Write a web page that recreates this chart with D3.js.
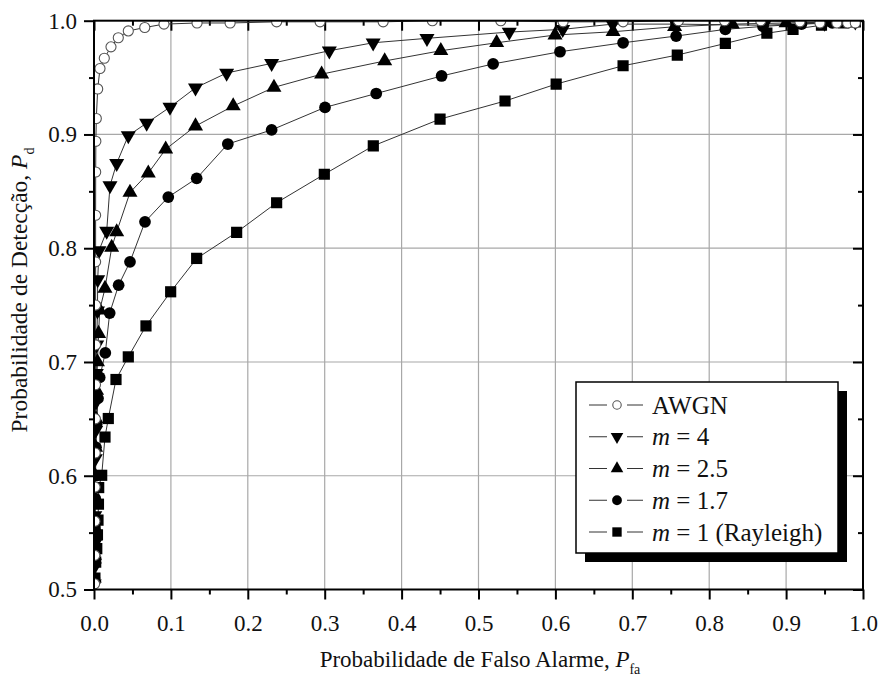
<!DOCTYPE html>
<html>
<head>
<meta charset="utf-8">
<script src="https://cdn.jsdelivr.net/npm/d3@7"></script>
<style>
  html, body { margin: 0; padding: 0; background: #fff; }
  svg { display: block; font-family: "Liberation Serif", "Times New Roman", serif; }
</style>
</head>
<body>
<svg id="chart" width="880" height="679"></svg>
<script>
// Detection probability vs. false-alarm probability (ROC) for Nakagami-m fading.
const xTickValues = [0, 0.1, 0.2, 0.3, 0.4, 0.5, 0.6, 0.7, 0.8, 0.9, 1.0];
const yTickValues = [0.5, 0.6, 0.7, 0.8, 0.9, 1.0];
const seriesNames = ["AWGN", "m = 4", "m = 2.5", "m = 1.7", "m = 1 (Rayleigh)"];

// [Pfa, Pd] pairs for each curve
const awgn = [
  [0.0008,0.505],[0.0010,0.530],[0.0012,0.560],[0.0014,0.590],[0.0016,0.620],[0.0018,0.650],
  [0.0019,0.680],[0.0020,0.715],[0.0021,0.750],[0.0021,0.788],[0.0021,0.829],[0.0022,0.867],
  [0.0024,0.894],[0.0030,0.914],[0.0048,0.940],[0.0078,0.958],[0.0134,0.967],[0.0221,0.977],
  [0.0316,0.985],[0.0446,0.991],[0.066,0.994],[0.091,0.997],[0.134,0.998],[0.177,0.998],
  [0.2375,0.999],[0.294,0.999],[0.376,0.999],[0.440,1.0],[0.529,1.0],[0.610,0.999],
  [0.688,0.999],[0.760,1.0],[0.820,1.0],[0.867,1.0],[0.918,0.999],[0.944,0.998],
  [0.966,0.998],[0.980,0.998],[0.990,0.998]
];
const m4 = [
  [0.0003,0.505],[0.0005,0.520],[0.0007,0.540],[0.0010,0.565],[0.0013,0.590],[0.0017,0.615],
  [0.0021,0.640],[0.0026,0.665],[0.0030,0.690],[0.0035,0.715],[0.0045,0.745],[0.0048,0.7725],
  [0.0065,0.798],[0.0165,0.815],[0.0208,0.855],[0.0295,0.8746],[0.0446,0.899],[0.0685,0.910],
  [0.0988,0.924],[0.132,0.941],[0.1725,0.954],[0.231,0.9625],[0.306,0.9736],[0.363,0.9806],
  [0.433,0.9845],[0.540,0.990],[0.6095,0.9924],[0.6745,0.997],[0.757,0.997],[0.871,0.996],
  [0.950,0.998],[0.990,0.999]
];
const m25 = [
  [0.0004,0.510],[0.0006,0.530],[0.0009,0.555],[0.0012,0.575],[0.0016,0.600],[0.0020,0.625],
  [0.0026,0.650],[0.0033,0.675],[0.0045,0.700],[0.0060,0.725],[0.0074,0.7456],[0.0143,0.7646],
  [0.023,0.8007],[0.0295,0.8144],[0.0468,0.849],[0.0706,0.866],[0.0932,0.887],[0.132,0.9074],
  [0.181,0.925],[0.234,0.9414],[0.296,0.953],[0.378,0.9646],[0.451,0.9736],[0.5236,0.9806],
  [0.5995,0.9874],[0.675,0.9903],[0.755,0.9947],[0.830,0.997],[0.900,0.998],[0.960,0.999]
];
const m17 = [
  [0.0005,0.510],[0.0008,0.530],[0.0012,0.555],[0.0016,0.580],[0.0020,0.600],[0.0026,0.625],
  [0.0035,0.645],[0.0052,0.668],[0.0074,0.6864],[0.0147,0.708],[0.0204,0.743],[0.032,0.7675],
  [0.0468,0.788],[0.0663,0.8232],[0.0966,0.845],[0.1335,0.8614],[0.174,0.8916],[0.231,0.904],
  [0.3004,0.9238],[0.367,0.936],[0.452,0.9514],[0.519,0.962],[0.606,0.9727],[0.688,0.9806],
  [0.757,0.9865],[0.821,0.9924],[0.870,0.995],[0.920,0.997],[0.960,0.998]
];
const m1 = [
  [0.0012,0.510],[0.0022,0.524],[0.0036,0.536],[0.0045,0.548],[0.0052,0.561],[0.0058,0.575],
  [0.0061,0.5896],[0.0100,0.6004],[0.0143,0.634],[0.0186,0.6503],[0.0286,0.6846],[0.0446,0.7045],
  [0.0676,0.7317],[0.0997,0.7617],[0.1335,0.791],[0.1855,0.814],[0.2375,0.840],[0.2995,0.865],
  [0.3632,0.890],[0.450,0.9135],[0.5345,0.9294],[0.601,0.9443],[0.688,0.9604],[0.7585,0.9698],
  [0.821,0.980],[0.875,0.989],[0.909,0.9924],[0.946,0.996],[0.975,0.998],[0.990,0.999]
];

const series = [
  { name: seriesNames[0], data: awgn, shape: "circle-open" },
  { name: seriesNames[1], data: m4,   shape: "tri-down" },
  { name: seriesNames[2], data: m25,  shape: "tri-up" },
  { name: seriesNames[3], data: m17,  shape: "circle" },
  { name: seriesNames[4], data: m1,   shape: "square" }
];

const svg = d3.select("#chart");
const plotL = 94, plotR = 863, plotT = 20.7, plotB = 589.5;

const x = d3.scaleLinear().domain([0, 1]).range([plotL, plotR]);
const y = d3.scaleLinear().domain([0.5, 1]).range([plotB, plotT]);

const minorX = d3.range(0.05, 1, 0.1);
const minorY = d3.range(0.55, 1, 0.1);

// grid
const grid = svg.append("g").attr("stroke", "#a8a8a8").attr("stroke-width", 1.2);
grid.selectAll("line.gx").data(xTickValues.slice(1, -1)).join("line")
  .attr("x1", d => x(d)).attr("x2", d => x(d)).attr("y1", plotT).attr("y2", plotB);
grid.selectAll("line.gy").data(yTickValues.slice(1, -1)).join("line")
  .attr("x1", plotL).attr("x2", plotR).attr("y1", d => y(d)).attr("y2", d => y(d));

// axes (outer ticks on bottom/left, inner mirror ticks on top/right)
const fmt = d3.format(".1f");
function styleAxis(g) {
  g.attr("font-family", null);
  g.select(".domain").remove();
  g.selectAll(".tick line").attr("stroke", "#000").attr("stroke-width", 2);
  g.selectAll(".tick text").attr("fill", "#111").style("font-family", "'Liberation Serif', serif").style("font-size", "23px");
}
svg.append("g").attr("transform", `translate(0,${plotB})`)
  .call(d3.axisBottom(x).tickValues(xTickValues).tickFormat(fmt).tickSize(10).tickPadding(15))
  .call(styleAxis);
svg.append("g").attr("transform", `translate(0,${plotB})`)
  .call(d3.axisBottom(x).tickValues(minorX).tickFormat("").tickSize(5))
  .call(styleAxis);
svg.append("g").attr("transform", `translate(${plotL},0)`)
  .call(d3.axisLeft(y).tickValues(yTickValues).tickFormat(fmt).tickSize(10).tickPadding(7))
  .call(styleAxis);
svg.append("g").attr("transform", `translate(${plotL},0)`)
  .call(d3.axisLeft(y).tickValues(minorY).tickFormat("").tickSize(5))
  .call(styleAxis);
svg.append("g").attr("transform", `translate(0,${plotT})`)
  .call(d3.axisTop(x).tickValues(xTickValues).tickFormat("").tickSize(-10)).call(styleAxis);
svg.append("g").attr("transform", `translate(0,${plotT})`)
  .call(d3.axisTop(x).tickValues(minorX).tickFormat("").tickSize(-5)).call(styleAxis);
svg.append("g").attr("transform", `translate(${plotR},0)`)
  .call(d3.axisRight(y).tickValues(yTickValues).tickFormat("").tickSize(-10)).call(styleAxis);
svg.append("g").attr("transform", `translate(${plotR},0)`)
  .call(d3.axisRight(y).tickValues(minorY).tickFormat("").tickSize(-5)).call(styleAxis);

// markers
function symbolPath(shape, scale) {
  const s = scale || 1;
  if (shape === "square") return d3.symbol(d3.symbolSquare, 125 * s)();
  if (shape === "tri-up" || shape === "tri-down") return d3.symbol(d3.symbolTriangle, 98 * s)();
  if (shape === "circle") return d3.symbol(d3.symbolCircle, 108 * s)();
  return d3.symbol(d3.symbolCircle, 80 * s)();
}
function drawMarker(g, shape, cx, cy, scale) {
  const p = g.append("path").attr("d", symbolPath(shape, scale))
    .attr("transform", `translate(${cx},${cy})` + (shape === "tri-down" ? " rotate(180)" : ""));
  if (shape === "circle-open") p.attr("fill", "#fff").attr("stroke", "#555").attr("stroke-width", 1.1);
  else p.attr("fill", "#000");
  return p;
}

svg.append("clipPath").attr("id", "plotClip").append("rect")
  .attr("x", plotL).attr("y", plotT).attr("width", plotR - plotL).attr("height", plotB - plotT);
const plot = svg.append("g").attr("clip-path", "url(#plotClip)");
const line = d3.line().x(d => x(d[0])).y(d => y(d[1]));

series.slice().reverse().forEach(s => {
  plot.append("path").datum(s.data).attr("d", line)
    .attr("fill", "none").attr("stroke", "#333").attr("stroke-width", 1);
});
series.slice().reverse().forEach(s => {
  const g = plot.append("g");
  s.data.forEach(d => drawMarker(g, s.shape, x(d[0]), y(d[1]), 1));
});

// frame
svg.append("rect").attr("x", plotL).attr("y", plotT).attr("width", plotR - plotL).attr("height", plotB - plotT)
  .attr("fill", "none").attr("stroke", "#000").attr("stroke-width", 2);

// axis titles
const xt = svg.append("text").attr("x", 480).attr("y", 667).attr("text-anchor", "middle")
  .style("font-size", "23px").attr("fill", "#111");
xt.append("tspan").text("Probabilidade de Falso Alarme, ");
xt.append("tspan").style("font-style", "italic").text("P");
xt.append("tspan").attr("dy", 7).style("font-size", "14px").text("fa");

const yt = svg.append("text").attr("transform", "translate(27,290) rotate(-90)").attr("text-anchor", "middle")
  .style("font-size", "23.5px").attr("fill", "#111");
yt.append("tspan").text("Probabilidade de Detecção, ");
yt.append("tspan").style("font-style", "italic").text("P");
yt.append("tspan").attr("dy", 7).style("font-size", "14px").text("d");

// legend
const lg = svg.append("g");
const lx = 576, ly = 382, lw = 262, lh = 171;
lg.append("rect").attr("x", lx + 9).attr("y", ly + 9).attr("width", lw).attr("height", lh).attr("fill", "#000");
lg.append("rect").attr("x", lx).attr("y", ly).attr("width", lw).attr("height", lh)
  .attr("fill", "#fff").attr("stroke", "#000").attr("stroke-width", 1.5);
const rowY = d3.scaleLinear().domain([0, 4]).range([ly + 23, ly + 150]);
series.forEach((s, i) => {
  const cy = rowY(i);
  lg.append("line").attr("x1", lx + 13).attr("x2", lx + 31).attr("y1", cy).attr("y2", cy).attr("stroke", "#333");
  lg.append("line").attr("x1", lx + 51).attr("x2", lx + 67).attr("y1", cy).attr("y2", cy).attr("stroke", "#333");
  drawMarker(lg, s.shape, lx + 41, cy, 0.7);
  const t = lg.append("text").attr("x", lx + 76).attr("y", cy + 8.5).style("font-size", "25px").attr("fill", "#111");
  if (s.name.startsWith("m")) {
    t.append("tspan").style("font-style", "italic").text("m");
    t.append("tspan").text(s.name.slice(1));
  } else {
    t.text(s.name);
  }
});
</script>
</body>
</html>
